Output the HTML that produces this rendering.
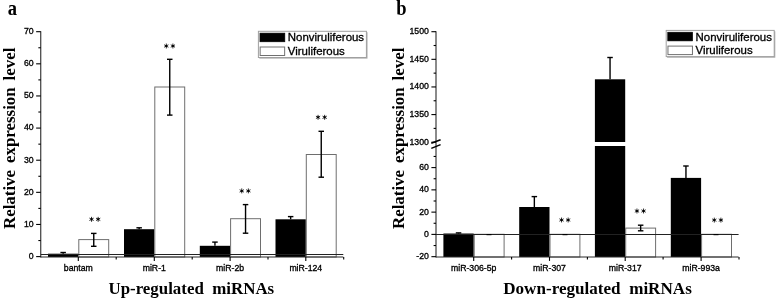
<!DOCTYPE html><html><head><meta charset="utf-8"><style>html,body{margin:0;padding:0;background:#fff;}svg{display:block;will-change:transform;filter:blur(0.3px);} text{-webkit-font-smoothing:antialiased;}</style></head><body>
<svg width="778" height="299" viewBox="0 0 778 299">
<rect x="0" y="0" width="778" height="299" fill="#fff"/>
<line x1="40.75" y1="31.20" x2="40.75" y2="257.50" stroke="#2a2a2a" stroke-width="1.1"/>
<line x1="36.15" y1="256.60" x2="40.75" y2="256.60" stroke="#000" stroke-width="1.1"/>
<text x="33.55" y="259.00" font-family='"Liberation Sans", sans-serif' font-size="8.7" font-weight="normal" text-anchor="end" stroke="#000" stroke-width="0.32">0</text>
<line x1="36.15" y1="224.47" x2="40.75" y2="224.47" stroke="#000" stroke-width="1.1"/>
<text x="33.55" y="226.87" font-family='"Liberation Sans", sans-serif' font-size="8.7" font-weight="normal" text-anchor="end" stroke="#000" stroke-width="0.32">10</text>
<line x1="36.15" y1="192.34" x2="40.75" y2="192.34" stroke="#000" stroke-width="1.1"/>
<text x="33.55" y="194.74" font-family='"Liberation Sans", sans-serif' font-size="8.7" font-weight="normal" text-anchor="end" stroke="#000" stroke-width="0.32">20</text>
<line x1="36.15" y1="160.21" x2="40.75" y2="160.21" stroke="#000" stroke-width="1.1"/>
<text x="33.55" y="162.61" font-family='"Liberation Sans", sans-serif' font-size="8.7" font-weight="normal" text-anchor="end" stroke="#000" stroke-width="0.32">30</text>
<line x1="36.15" y1="128.08" x2="40.75" y2="128.08" stroke="#000" stroke-width="1.1"/>
<text x="33.55" y="130.48" font-family='"Liberation Sans", sans-serif' font-size="8.7" font-weight="normal" text-anchor="end" stroke="#000" stroke-width="0.32">40</text>
<line x1="36.15" y1="95.95" x2="40.75" y2="95.95" stroke="#000" stroke-width="1.1"/>
<text x="33.55" y="98.35" font-family='"Liberation Sans", sans-serif' font-size="8.7" font-weight="normal" text-anchor="end" stroke="#000" stroke-width="0.32">50</text>
<line x1="36.15" y1="63.82" x2="40.75" y2="63.82" stroke="#000" stroke-width="1.1"/>
<text x="33.55" y="66.22" font-family='"Liberation Sans", sans-serif' font-size="8.7" font-weight="normal" text-anchor="end" stroke="#000" stroke-width="0.32">60</text>
<line x1="36.15" y1="31.69" x2="40.75" y2="31.69" stroke="#000" stroke-width="1.1"/>
<text x="33.55" y="34.09" font-family='"Liberation Sans", sans-serif' font-size="8.7" font-weight="normal" text-anchor="end" stroke="#000" stroke-width="0.32">70</text>
<line x1="38.35" y1="240.54" x2="40.75" y2="240.54" stroke="#000" stroke-width="1.1"/>
<line x1="38.35" y1="208.41" x2="40.75" y2="208.41" stroke="#000" stroke-width="1.1"/>
<line x1="38.35" y1="176.28" x2="40.75" y2="176.28" stroke="#000" stroke-width="1.1"/>
<line x1="38.35" y1="144.15" x2="40.75" y2="144.15" stroke="#000" stroke-width="1.1"/>
<line x1="38.35" y1="112.02" x2="40.75" y2="112.02" stroke="#000" stroke-width="1.1"/>
<line x1="38.35" y1="79.89" x2="40.75" y2="79.89" stroke="#000" stroke-width="1.1"/>
<line x1="38.35" y1="47.76" x2="40.75" y2="47.76" stroke="#000" stroke-width="1.1"/>
<rect x="48.00" y="253.70" width="30.30" height="3.30" fill="#000" stroke="none" stroke-width="1"/>
<rect x="78.80" y="239.60" width="29.90" height="17.40" fill="#fff" stroke="#6e6e6e" stroke-width="1"/>
<rect x="124.00" y="229.20" width="30.30" height="27.80" fill="#000" stroke="none" stroke-width="1"/>
<rect x="154.80" y="87.00" width="29.90" height="170.00" fill="#fff" stroke="#6e6e6e" stroke-width="1"/>
<rect x="199.80" y="245.80" width="30.30" height="11.20" fill="#000" stroke="none" stroke-width="1"/>
<rect x="230.60" y="218.70" width="29.90" height="38.30" fill="#fff" stroke="#6e6e6e" stroke-width="1"/>
<rect x="275.50" y="219.30" width="30.30" height="37.70" fill="#000" stroke="none" stroke-width="1"/>
<rect x="306.30" y="154.50" width="29.90" height="102.50" fill="#fff" stroke="#6e6e6e" stroke-width="1"/>
<line x1="40.75" y1="254.50" x2="343.30" y2="254.50" stroke="#222" stroke-width="1.0"/>
<line x1="40.75" y1="257.00" x2="343.30" y2="257.00" stroke="#2a2a2a" stroke-width="1.0"/>
<line x1="63.15" y1="252.50" x2="63.15" y2="253.70" stroke="#000" stroke-width="1.4"/>
<line x1="60.40" y1="252.50" x2="65.90" y2="252.50" stroke="#000" stroke-width="1.4"/>
<line x1="93.75" y1="233.40" x2="93.75" y2="246.30" stroke="#000" stroke-width="1.4"/>
<line x1="91.00" y1="233.40" x2="96.50" y2="233.40" stroke="#000" stroke-width="1.4"/>
<line x1="91.00" y1="246.30" x2="96.50" y2="246.30" stroke="#000" stroke-width="1.4"/>
<line x1="139.15" y1="227.80" x2="139.15" y2="229.20" stroke="#000" stroke-width="1.4"/>
<line x1="136.40" y1="227.80" x2="141.90" y2="227.80" stroke="#000" stroke-width="1.4"/>
<line x1="169.75" y1="59.30" x2="169.75" y2="115.10" stroke="#000" stroke-width="1.4"/>
<line x1="167.00" y1="59.30" x2="172.50" y2="59.30" stroke="#000" stroke-width="1.4"/>
<line x1="167.00" y1="115.10" x2="172.50" y2="115.10" stroke="#000" stroke-width="1.4"/>
<line x1="214.95" y1="242.10" x2="214.95" y2="245.80" stroke="#000" stroke-width="1.4"/>
<line x1="212.20" y1="242.10" x2="217.70" y2="242.10" stroke="#000" stroke-width="1.4"/>
<line x1="245.55" y1="204.60" x2="245.55" y2="233.20" stroke="#000" stroke-width="1.4"/>
<line x1="242.80" y1="204.60" x2="248.30" y2="204.60" stroke="#000" stroke-width="1.4"/>
<line x1="242.80" y1="233.20" x2="248.30" y2="233.20" stroke="#000" stroke-width="1.4"/>
<line x1="290.65" y1="216.60" x2="290.65" y2="219.30" stroke="#000" stroke-width="1.4"/>
<line x1="287.90" y1="216.60" x2="293.40" y2="216.60" stroke="#000" stroke-width="1.4"/>
<line x1="321.25" y1="131.30" x2="321.25" y2="177.20" stroke="#000" stroke-width="1.4"/>
<line x1="318.50" y1="131.30" x2="324.00" y2="131.30" stroke="#000" stroke-width="1.4"/>
<line x1="318.50" y1="177.20" x2="324.00" y2="177.20" stroke="#000" stroke-width="1.4"/>
<line x1="78.30" y1="257.00" x2="78.30" y2="260.90" stroke="#000" stroke-width="1.1"/>
<line x1="116.20" y1="257.00" x2="116.20" y2="259.50" stroke="#000" stroke-width="1.1"/>
<text x="78.30" y="270.50" font-family='"Liberation Sans", sans-serif' font-size="8.7" font-weight="normal" text-anchor="middle" stroke="#000" stroke-width="0.32">bantam</text>
<line x1="154.30" y1="257.00" x2="154.30" y2="260.90" stroke="#000" stroke-width="1.1"/>
<line x1="192.20" y1="257.00" x2="192.20" y2="259.50" stroke="#000" stroke-width="1.1"/>
<text x="154.30" y="270.50" font-family='"Liberation Sans", sans-serif' font-size="8.7" font-weight="normal" text-anchor="middle" stroke="#000" stroke-width="0.32">miR-1</text>
<line x1="230.10" y1="257.00" x2="230.10" y2="260.90" stroke="#000" stroke-width="1.1"/>
<line x1="268.00" y1="257.00" x2="268.00" y2="259.50" stroke="#000" stroke-width="1.1"/>
<text x="230.10" y="270.50" font-family='"Liberation Sans", sans-serif' font-size="8.7" font-weight="normal" text-anchor="middle" stroke="#000" stroke-width="0.32">miR-2b</text>
<line x1="305.80" y1="257.00" x2="305.80" y2="260.90" stroke="#000" stroke-width="1.1"/>
<line x1="343.70" y1="257.00" x2="343.70" y2="259.50" stroke="#000" stroke-width="1.1"/>
<text x="305.80" y="270.50" font-family='"Liberation Sans", sans-serif' font-size="8.7" font-weight="normal" text-anchor="middle" stroke="#000" stroke-width="0.32">miR-124</text>
<path d="M91.55 216.85V221.75M89.43 218.08L93.67 220.53M89.43 220.53L93.67 218.08" stroke="#000" stroke-width="0.85" fill="none"/>
<circle cx="91.55" cy="219.30" r="0.95" fill="#000"/>
<path d="M98.15 216.85V221.75M96.03 218.08L100.27 220.53M96.03 220.53L100.27 218.08" stroke="#000" stroke-width="0.85" fill="none"/>
<circle cx="98.15" cy="219.30" r="0.95" fill="#000"/>
<path d="M166.30 43.55V48.45M164.18 44.77L168.42 47.23M164.18 47.23L168.42 44.77" stroke="#000" stroke-width="0.85" fill="none"/>
<circle cx="166.30" cy="46.00" r="0.95" fill="#000"/>
<path d="M172.90 43.55V48.45M170.78 44.77L175.02 47.23M170.78 47.23L175.02 44.77" stroke="#000" stroke-width="0.85" fill="none"/>
<circle cx="172.90" cy="46.00" r="0.95" fill="#000"/>
<path d="M241.75 188.45V193.35M239.63 189.68L243.87 192.12M239.63 192.12L243.87 189.68" stroke="#000" stroke-width="0.85" fill="none"/>
<circle cx="241.75" cy="190.90" r="0.95" fill="#000"/>
<path d="M248.35 188.45V193.35M246.23 189.68L250.47 192.12M246.23 192.12L250.47 189.68" stroke="#000" stroke-width="0.85" fill="none"/>
<circle cx="248.35" cy="190.90" r="0.95" fill="#000"/>
<path d="M318.05 114.85V119.75M315.93 116.08L320.17 118.52M315.93 118.52L320.17 116.08" stroke="#000" stroke-width="0.85" fill="none"/>
<circle cx="318.05" cy="117.30" r="0.95" fill="#000"/>
<path d="M324.65 114.85V119.75M322.53 116.08L326.77 118.52M322.53 118.52L326.77 116.08" stroke="#000" stroke-width="0.85" fill="none"/>
<circle cx="324.65" cy="117.30" r="0.95" fill="#000"/>
<rect x="259.30" y="32.20" width="108.20" height="26.40" fill="#a8a8a8" stroke="none" stroke-width="1"/>
<rect x="258.40" y="31.30" width="108.00" height="26.20" fill="#fff" stroke="#a0a0a0" stroke-width="1"/>
<rect x="259.95" y="33.10" width="24.90" height="8.70" fill="#000" stroke="#000" stroke-width="0.6"/>
<rect x="260.15" y="47.00" width="24.50" height="8.50" fill="#fff" stroke="#707070" stroke-width="1"/>
<text x="287.80" y="41.45" font-family='"Liberation Sans", sans-serif' font-size="11.45" font-weight="normal" text-anchor="start" stroke="#000" stroke-width="0.32">Nonviruliferous</text>
<text x="287.80" y="55.30" font-family='"Liberation Sans", sans-serif' font-size="11.45" font-weight="normal" text-anchor="start" stroke="#000" stroke-width="0.32">Viruliferous</text>
<line x1="436.00" y1="31.20" x2="436.00" y2="257.50" stroke="#2a2a2a" stroke-width="1.1"/>
<line x1="431.40" y1="31.70" x2="436.00" y2="31.70" stroke="#000" stroke-width="1.1"/>
<text x="428.80" y="34.10" font-family='"Liberation Sans", sans-serif' font-size="8.7" font-weight="normal" text-anchor="end" stroke="#000" stroke-width="0.32">1500</text>
<line x1="431.40" y1="59.33" x2="436.00" y2="59.33" stroke="#000" stroke-width="1.1"/>
<text x="428.80" y="61.73" font-family='"Liberation Sans", sans-serif' font-size="8.7" font-weight="normal" text-anchor="end" stroke="#000" stroke-width="0.32">1450</text>
<line x1="431.40" y1="86.95" x2="436.00" y2="86.95" stroke="#000" stroke-width="1.1"/>
<text x="428.80" y="89.35" font-family='"Liberation Sans", sans-serif' font-size="8.7" font-weight="normal" text-anchor="end" stroke="#000" stroke-width="0.32">1400</text>
<line x1="431.40" y1="114.58" x2="436.00" y2="114.58" stroke="#000" stroke-width="1.1"/>
<text x="428.80" y="116.98" font-family='"Liberation Sans", sans-serif' font-size="8.7" font-weight="normal" text-anchor="end" stroke="#000" stroke-width="0.32">1350</text>
<line x1="431.40" y1="142.20" x2="436.00" y2="142.20" stroke="#000" stroke-width="1.1"/>
<text x="428.80" y="144.60" font-family='"Liberation Sans", sans-serif' font-size="8.7" font-weight="normal" text-anchor="end" stroke="#000" stroke-width="0.32">1300</text>
<line x1="431.40" y1="167.59" x2="436.00" y2="167.59" stroke="#000" stroke-width="1.1"/>
<text x="428.80" y="169.99" font-family='"Liberation Sans", sans-serif' font-size="8.7" font-weight="normal" text-anchor="end" stroke="#000" stroke-width="0.32">60</text>
<line x1="431.40" y1="189.86" x2="436.00" y2="189.86" stroke="#000" stroke-width="1.1"/>
<text x="428.80" y="192.26" font-family='"Liberation Sans", sans-serif' font-size="8.7" font-weight="normal" text-anchor="end" stroke="#000" stroke-width="0.32">40</text>
<line x1="431.40" y1="212.13" x2="436.00" y2="212.13" stroke="#000" stroke-width="1.1"/>
<text x="428.80" y="214.53" font-family='"Liberation Sans", sans-serif' font-size="8.7" font-weight="normal" text-anchor="end" stroke="#000" stroke-width="0.32">20</text>
<line x1="431.40" y1="234.40" x2="436.00" y2="234.40" stroke="#000" stroke-width="1.1"/>
<text x="428.80" y="236.80" font-family='"Liberation Sans", sans-serif' font-size="8.7" font-weight="normal" text-anchor="end" stroke="#000" stroke-width="0.32">0</text>
<line x1="431.40" y1="256.67" x2="436.00" y2="256.67" stroke="#000" stroke-width="1.1"/>
<text x="428.80" y="259.07" font-family='"Liberation Sans", sans-serif' font-size="8.7" font-weight="normal" text-anchor="end" stroke="#000" stroke-width="0.32">-20</text>
<line x1="433.60" y1="45.51" x2="436.00" y2="45.51" stroke="#000" stroke-width="1.1"/>
<line x1="433.60" y1="73.14" x2="436.00" y2="73.14" stroke="#000" stroke-width="1.1"/>
<line x1="433.60" y1="100.76" x2="436.00" y2="100.76" stroke="#000" stroke-width="1.1"/>
<line x1="433.60" y1="128.39" x2="436.00" y2="128.39" stroke="#000" stroke-width="1.1"/>
<line x1="433.60" y1="156.46" x2="436.00" y2="156.46" stroke="#000" stroke-width="1.1"/>
<line x1="433.60" y1="178.73" x2="436.00" y2="178.73" stroke="#000" stroke-width="1.1"/>
<line x1="433.60" y1="201.00" x2="436.00" y2="201.00" stroke="#000" stroke-width="1.1"/>
<line x1="433.60" y1="223.27" x2="436.00" y2="223.27" stroke="#000" stroke-width="1.1"/>
<line x1="433.60" y1="245.53" x2="436.00" y2="245.53" stroke="#000" stroke-width="1.1"/>
<rect x="443.40" y="233.51" width="30.30" height="23.49" fill="#000" stroke="none" stroke-width="1"/>
<rect x="474.20" y="234.30" width="29.90" height="22.70" fill="#fff" stroke="#6e6e6e" stroke-width="1"/>
<rect x="519.20" y="207.00" width="30.30" height="50.00" fill="#000" stroke="none" stroke-width="1"/>
<rect x="550.00" y="234.30" width="29.90" height="22.70" fill="#fff" stroke="#6e6e6e" stroke-width="1"/>
<rect x="594.90" y="79.30" width="30.30" height="177.70" fill="#000" stroke="none" stroke-width="1"/>
<rect x="625.70" y="228.10" width="29.90" height="28.90" fill="#fff" stroke="#6e6e6e" stroke-width="1"/>
<rect x="670.80" y="177.90" width="30.30" height="79.10" fill="#000" stroke="none" stroke-width="1"/>
<rect x="701.60" y="234.30" width="29.90" height="22.70" fill="#fff" stroke="#6e6e6e" stroke-width="1"/>
<line x1="436.00" y1="234.50" x2="738.60" y2="234.50" stroke="#222" stroke-width="1.0"/>
<line x1="436.00" y1="257.00" x2="738.60" y2="257.00" stroke="#2a2a2a" stroke-width="1.0"/>
<line x1="458.55" y1="232.90" x2="458.55" y2="233.51" stroke="#000" stroke-width="1.4"/>
<line x1="455.80" y1="232.90" x2="461.30" y2="232.90" stroke="#000" stroke-width="1.4"/>
<line x1="534.35" y1="196.60" x2="534.35" y2="207.00" stroke="#000" stroke-width="1.4"/>
<line x1="531.60" y1="196.60" x2="537.10" y2="196.60" stroke="#000" stroke-width="1.4"/>
<line x1="610.05" y1="57.50" x2="610.05" y2="79.30" stroke="#000" stroke-width="1.4"/>
<line x1="607.30" y1="57.50" x2="612.80" y2="57.50" stroke="#000" stroke-width="1.4"/>
<line x1="640.65" y1="225.20" x2="640.65" y2="230.80" stroke="#000" stroke-width="1.4"/>
<line x1="637.90" y1="225.20" x2="643.40" y2="225.20" stroke="#000" stroke-width="1.4"/>
<line x1="637.90" y1="230.80" x2="643.40" y2="230.80" stroke="#000" stroke-width="1.4"/>
<line x1="685.95" y1="166.00" x2="685.95" y2="177.90" stroke="#000" stroke-width="1.4"/>
<line x1="683.20" y1="166.00" x2="688.70" y2="166.00" stroke="#000" stroke-width="1.4"/>
<line x1="473.70" y1="257.00" x2="473.70" y2="260.90" stroke="#000" stroke-width="1.1"/>
<line x1="511.60" y1="257.00" x2="511.60" y2="259.50" stroke="#000" stroke-width="1.1"/>
<text x="473.70" y="270.50" font-family='"Liberation Sans", sans-serif' font-size="8.7" font-weight="normal" text-anchor="middle" stroke="#000" stroke-width="0.32">miR-306-5p</text>
<line x1="549.50" y1="257.00" x2="549.50" y2="260.90" stroke="#000" stroke-width="1.1"/>
<line x1="587.40" y1="257.00" x2="587.40" y2="259.50" stroke="#000" stroke-width="1.1"/>
<text x="549.50" y="270.50" font-family='"Liberation Sans", sans-serif' font-size="8.7" font-weight="normal" text-anchor="middle" stroke="#000" stroke-width="0.32">miR-307</text>
<line x1="625.20" y1="257.00" x2="625.20" y2="260.90" stroke="#000" stroke-width="1.1"/>
<line x1="663.10" y1="257.00" x2="663.10" y2="259.50" stroke="#000" stroke-width="1.1"/>
<text x="625.20" y="270.50" font-family='"Liberation Sans", sans-serif' font-size="8.7" font-weight="normal" text-anchor="middle" stroke="#000" stroke-width="0.32">miR-317</text>
<line x1="701.10" y1="257.00" x2="701.10" y2="260.90" stroke="#000" stroke-width="1.1"/>
<line x1="739.00" y1="257.00" x2="739.00" y2="259.50" stroke="#000" stroke-width="1.1"/>
<text x="701.10" y="270.50" font-family='"Liberation Sans", sans-serif' font-size="8.7" font-weight="normal" text-anchor="middle" stroke="#000" stroke-width="0.32">miR-993a</text>
<rect x="593.50" y="142.00" width="33.00" height="4.00" fill="#fff" stroke="none" stroke-width="1"/>
<line x1="431.30" y1="143.20" x2="440.60" y2="139.80" stroke="#000" stroke-width="1.5"/>
<line x1="431.30" y1="148.40" x2="440.60" y2="144.60" stroke="#000" stroke-width="1.5"/>
<line x1="486.50" y1="234.60" x2="491.50" y2="234.60" stroke="#000" stroke-width="1.2"/>
<line x1="562.50" y1="234.60" x2="567.50" y2="234.60" stroke="#000" stroke-width="1.2"/>
<line x1="713.50" y1="234.60" x2="718.50" y2="234.60" stroke="#000" stroke-width="1.2"/>
<path d="M561.55 217.55V222.45M559.43 218.78L563.67 221.22M559.43 221.22L563.67 218.78" stroke="#000" stroke-width="0.85" fill="none"/>
<circle cx="561.55" cy="220.00" r="0.95" fill="#000"/>
<path d="M568.15 217.55V222.45M566.03 218.78L570.27 221.22M566.03 221.22L570.27 218.78" stroke="#000" stroke-width="0.85" fill="none"/>
<circle cx="568.15" cy="220.00" r="0.95" fill="#000"/>
<path d="M636.95 208.55V213.45M634.83 209.78L639.07 212.22M634.83 212.22L639.07 209.78" stroke="#000" stroke-width="0.85" fill="none"/>
<circle cx="636.95" cy="211.00" r="0.95" fill="#000"/>
<path d="M643.55 208.55V213.45M641.43 209.78L645.67 212.22M641.43 212.22L645.67 209.78" stroke="#000" stroke-width="0.85" fill="none"/>
<circle cx="643.55" cy="211.00" r="0.95" fill="#000"/>
<path d="M714.30 217.65V222.55M712.18 218.88L716.42 221.32M712.18 221.32L716.42 218.88" stroke="#000" stroke-width="0.85" fill="none"/>
<circle cx="714.30" cy="220.10" r="0.95" fill="#000"/>
<path d="M720.90 217.65V222.55M718.78 218.88L723.02 221.32M718.78 221.32L723.02 218.88" stroke="#000" stroke-width="0.85" fill="none"/>
<circle cx="720.90" cy="220.10" r="0.95" fill="#000"/>
<rect x="667.10" y="31.30" width="108.20" height="26.40" fill="#a8a8a8" stroke="none" stroke-width="1"/>
<rect x="666.20" y="30.40" width="108.00" height="26.20" fill="#fff" stroke="#a0a0a0" stroke-width="1"/>
<rect x="667.75" y="32.20" width="24.90" height="8.70" fill="#000" stroke="#000" stroke-width="0.6"/>
<rect x="667.95" y="46.10" width="24.50" height="8.50" fill="#fff" stroke="#707070" stroke-width="1"/>
<text x="695.60" y="40.55" font-family='"Liberation Sans", sans-serif' font-size="11.45" font-weight="normal" text-anchor="start" stroke="#000" stroke-width="0.32">Nonviruliferous</text>
<text x="695.60" y="54.40" font-family='"Liberation Sans", sans-serif' font-size="11.45" font-weight="normal" text-anchor="start" stroke="#000" stroke-width="0.32">Viruliferous</text>
<text x="0" y="0" transform="translate(7.7,14.6) scale(0.87,1)" font-family='"Liberation Serif", serif' font-size="21.3" font-weight="bold">a</text>
<text x="0" y="0" transform="translate(396.3,14.6) scale(0.87,1)" font-family='"Liberation Serif", serif' font-size="21.3" font-weight="bold">b</text>
<text x="0" y="0" transform="translate(14.7,138.3) rotate(-90)" font-family='"Liberation Serif", serif' font-size="16.9" font-weight="bold" word-spacing="2.7" text-anchor="middle">Relative expression level</text>
<text x="0" y="0" transform="translate(403.7,138.3) rotate(-90)" font-family='"Liberation Serif", serif' font-size="16.9" font-weight="bold" word-spacing="2.7" text-anchor="middle">Relative expression level</text>
<text x="0" y="0" transform="translate(191.3,293.6) scale(1,1.03)" font-family='"Liberation Serif", serif' font-size="16.9" font-weight="bold" text-anchor="middle">Up-regulated&#160; miRNAs</text>
<text x="0" y="0" transform="translate(597.5,293.7) scale(1,1.03)" font-family='"Liberation Serif", serif' font-size="17.1" font-weight="bold" text-anchor="middle">Down-regulated&#160; miRNAs</text>
</svg></body></html>
